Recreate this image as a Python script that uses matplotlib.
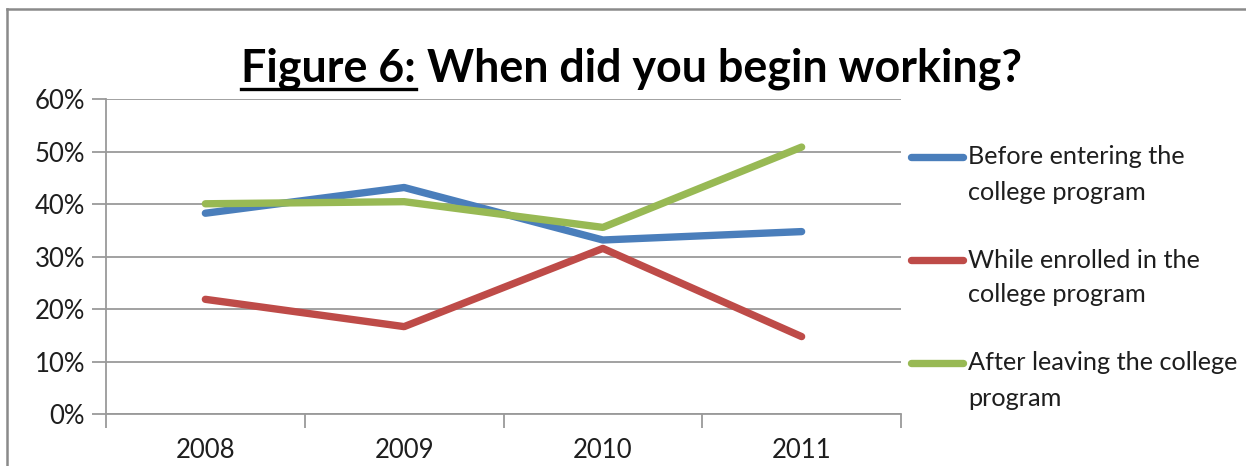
import matplotlib
matplotlib.use("Agg")
import matplotlib.pyplot as plt
from matplotlib.lines import Line2D

years = ["2008", "2009", "2010", "2011"]
before_entering = [38.3, 43.2, 33.2, 34.8]
while_enrolled = [21.9, 16.7, 31.6, 14.8]
after_leaving = [40.1, 40.5, 35.6, 50.9]
series_labels = ["Before entering the\ncollege program",
                 "While enrolled in the\ncollege program",
                 "After leaving the college\nprogram"]
series_colors = ["#4A7EBB", "#BE4B48", "#98B954"]
y_ticks = [0, 10, 20, 30, 40, 50, 60]
title_lead = "Figure 6:"
title_rest = "When did you begin working?"

plt.rcParams["font.family"] = ["Lato", "DejaVu Sans"]

W, H = 1246, 466
fig = plt.figure(figsize=(W / 100, H / 100), dpi=100)
fig.patch.set_facecolor("white")

def fx(px):
    return px / W

def fy(py):
    return 1 - py / H

text_c = "#1E1E1E"
grid_c = "#9A9A9A"
label_size = 18.5
legend_size = 18.2

ax = fig.add_axes([fx(106), fy(414.3), fx(901) - fx(106), fy(99.3) - fy(414.3)])
x = list(range(len(years)))
for vals, col, lab in zip([before_entering, while_enrolled, after_leaving],
                          series_colors, series_labels):
    ax.plot(x, vals, color=col, lw=5.3, solid_capstyle="round",
            solid_joinstyle="round", label=lab, zorder=3)

ax.set_xlim(-0.5, len(years) - 0.5)
ax.set_ylim(0, 60)
ax.set_yticks(y_ticks)
ax.set_yticklabels([f"{v}%" for v in y_ticks])
ax.set_xticks([i - 0.5 for i in range(len(years) + 1)])
ax.set_xticklabels([])
ax.set_xticks(x, minor=True)
ax.set_xticklabels(years, minor=True)
ax.tick_params(axis="x", which="major", length=10, width=1.3, color=grid_c)
ax.tick_params(axis="x", which="minor", length=0, pad=17, labelsize=label_size,
               labelcolor=text_c)
ax.tick_params(axis="y", length=10, width=1.3, color=grid_c, pad=5,
               labelsize=label_size, labelcolor=text_c)
ax.yaxis.grid(True, color=grid_c, lw=1.3, zorder=0)
ax.set_axisbelow(True)
for s in ["top", "right"]:
    ax.spines[s].set_visible(False)
for s in ["left", "bottom"]:
    ax.spines[s].set_color(grid_c)
    ax.spines[s].set_linewidth(1.3)

# outer frame
fig.add_artist(Line2D([fx(6.5), fx(6.5)], [0, fy(9)], color="#8A8A8A", lw=1.8))
fig.add_artist(Line2D([fx(6.5), 1], [fy(9), fy(9)], color="#8A8A8A", lw=1.8))

# legend drawn beside the plot
leg_y = [157, 260, 363]
for lab, col, yy in zip(series_labels, series_colors, leg_y):
    fig.add_artist(Line2D([fx(911), fx(963)], [fy(yy), fy(yy)], color=col,
                          lw=5.3, solid_capstyle="round"))
    for k, line in enumerate(lab.split("\n")):
        fig.text(fx(968), fy(yy + 35 * k), line, fontsize=legend_size, color=text_c,
                 ha="left", va="center")

# title with underlined lead
renderer = fig.canvas.get_renderer()
tsize = 32.3
t1 = fig.text(fx(241), fy(82), title_lead, fontsize=tsize, fontweight="bold",
              ha="left", va="baseline", color="black")
bb1 = t1.get_window_extent(renderer)
t2 = fig.text(0, fy(82), title_rest, fontsize=tsize, fontweight="bold",
              ha="left", va="baseline", color="black")
t2.set_x((bb1.x1 + 11) / W)
fig.add_artist(Line2D([bb1.x0 / W, bb1.x1 / W], [fy(88.5), fy(88.5)], color="black", lw=2.4))

fig.savefig("out.png", dpi=100, facecolor="white")
